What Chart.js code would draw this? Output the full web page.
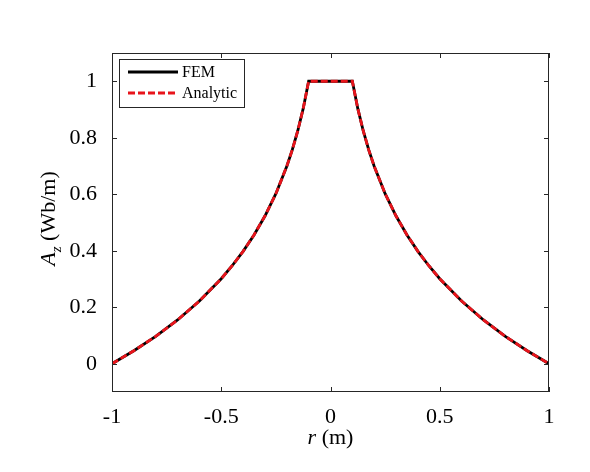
<!DOCTYPE html>
<html>
<head>
<meta charset="utf-8">
<script src="https://cdn.jsdelivr.net/npm/chart.js@4.4.1/dist/chart.umd.min.js"></script>
<style>
  html, body { margin: 0; padding: 0; background: #fff; }
  #boite { width: 590px; height: 472px; position: relative; }
</style>
</head>
<body>
<div id="boite"><canvas id="graphique"></canvas></div>
<script>
// données
const rPoints = [-1, -0.9, -0.8, -0.7, -0.6, -0.5, -0.45, -0.4, -0.35, -0.3, -0.25, -0.2, -0.175, -0.15, -0.125, -0.1,
                 0, 0.1, 0.125, 0.15, 0.175, 0.2, 0.25, 0.3, 0.35, 0.4, 0.45, 0.5, 0.6, 0.7, 0.8, 0.9, 1];
const azFEM = [0, 0.046, 0.097, 0.155, 0.222, 0.301, 0.347, 0.398, 0.456, 0.523, 0.602, 0.699, 0.757, 0.824, 0.903, 1.0,
               1.0, 1.0, 0.903, 0.824, 0.757, 0.699, 0.602, 0.523, 0.456, 0.398, 0.347, 0.301, 0.222, 0.155, 0.097, 0.046, 0];
const azAnalytic = [0, 0.046, 0.097, 0.155, 0.222, 0.301, 0.347, 0.398, 0.456, 0.523, 0.602, 0.699, 0.757, 0.824, 0.903, 1.0,
                    1.0, 1.0, 0.903, 0.824, 0.757, 0.699, 0.602, 0.523, 0.456, 0.398, 0.347, 0.301, 0.222, 0.155, 0.097, 0.046, 0];
const xTicks = [-1, -0.5, 0, 0.5, 1];
const yTicks = [0, 0.2, 0.4, 0.6, 0.8, 1];

const policeSerif = '"Liberation Serif", "DejaVu Serif", serif';
const couleurAxe = '#262626';
const rouge = '#e8141b';

function versPoints(xs, ys) {
    return xs.map((x, i) => ({ x: x, y: ys[i] }));
}

// cadre, graduations internes, titres et légende façon MATLAB
const pluginMatlab = {
    id: 'matlab',
    beforeDraw(chart) {
        const ctx = chart.ctx;
        ctx.save();
        ctx.fillStyle = '#fff';
        ctx.fillRect(0, 0, chart.width, chart.height);
        ctx.restore();
    },
    afterDraw(chart) {
        const ctx = chart.ctx;
        const a = chart.chartArea;
        const sx = chart.scales.x;
        const sy = chart.scales.y;
        const lg = 5;

        ctx.save();
        ctx.strokeStyle = couleurAxe;
        ctx.lineWidth = 1;
        ctx.strokeRect(a.left + 0.5, a.top + 0.5, a.right - a.left - 1, a.bottom - a.top - 1);

        ctx.beginPath();
        xTicks.forEach(v => {
            const px = Math.round(sx.getPixelForValue(v)) + 0.5;
            ctx.moveTo(px, a.bottom); ctx.lineTo(px, a.bottom - lg);
            ctx.moveTo(px, a.top); ctx.lineTo(px, a.top + lg);
        });
        yTicks.forEach(v => {
            const py = Math.round(sy.getPixelForValue(v)) + 0.5;
            ctx.moveTo(a.left, py); ctx.lineTo(a.left + lg, py);
            ctx.moveTo(a.right, py); ctx.lineTo(a.right - lg, py);
        });
        ctx.stroke();

        // titre axe x : r (m)
        ctx.fillStyle = '#000';
        ctx.textBaseline = 'alphabetic';
        ctx.font = 'italic 22px ' + policeSerif;
        const wR = ctx.measureText('r').width;
        ctx.font = '22px ' + policeSerif;
        const wReste = ctx.measureText(' (m)').width;
        let x0 = (a.left + a.right) / 2 - (wR + wReste) / 2;
        ctx.font = 'italic 22px ' + policeSerif;
        ctx.fillText('r', x0, 444);
        ctx.font = '22px ' + policeSerif;
        ctx.fillText(' (m)', x0 + wR, 444);

        // titre axe y : A_z (Wb/m)
        ctx.save();
        ctx.translate(55, (a.top + a.bottom) / 2 - 4);
        ctx.rotate(-Math.PI / 2);
        ctx.font = 'italic 22px ' + policeSerif;
        const wA = ctx.measureText('A').width;
        ctx.font = 'italic 15px ' + policeSerif;
        const wZ = ctx.measureText('z').width;
        ctx.font = '22px ' + policeSerif;
        const wU = ctx.measureText(' (Wb/m)').width;
        let t = -(wA + wZ + wU) / 2;
        ctx.font = 'italic 22px ' + policeSerif;
        ctx.fillText('A', t, 0);
        ctx.font = 'italic 15px ' + policeSerif;
        ctx.fillText('z', t + wA, 6);
        ctx.font = '22px ' + policeSerif;
        ctx.fillText(' (Wb/m)', t + wA + wZ, 0);
        ctx.restore();

        // légende
        const lx = 119, ly = 59, lw = 125, lh = 48;
        ctx.fillStyle = '#fff';
        ctx.fillRect(lx, ly, lw, lh);
        ctx.strokeStyle = couleurAxe;
        ctx.lineWidth = 1;
        ctx.strokeRect(lx + 0.5, ly + 0.5, lw, lh);

        const jeux = chart.data.datasets;
        const lignesY = [72, 93];
        jeux.forEach((d, i) => {
            ctx.beginPath();
            ctx.strokeStyle = d.borderColor;
            ctx.lineWidth = d.borderWidth;
            ctx.setLineDash(d.borderDash || []);
            ctx.moveTo(128, lignesY[i]);
            ctx.lineTo(178, lignesY[i]);
            ctx.stroke();
            ctx.setLineDash([]);
            ctx.fillStyle = '#000';
            ctx.font = '16px ' + policeSerif;
            ctx.textBaseline = 'middle';
            ctx.fillText(d.label, 182, lignesY[i] + 1);
        });
        ctx.restore();
    }
};

new Chart(document.getElementById('graphique'), {
    type: 'line',
    data: {
        datasets: [
            {
                label: 'FEM',
                data: versPoints(rPoints, azFEM),
                borderColor: '#000',
                borderWidth: 2.8,
                pointRadius: 0,
                fill: false,
                tension: 0,
                order: 1
            },
            {
                label: 'Analytic',
                data: versPoints(rPoints, azAnalytic),
                borderColor: rouge,
                borderWidth: 2.8,
                borderDash: [7, 3],
                pointRadius: 0,
                fill: false,
                tension: 0,
                order: 0
            }
        ]
    },
    options: {
        responsive: true,
        maintainAspectRatio: false,
        animation: false,
        layout: { padding: { left: 0, top: 53, right: 41, bottom: 0 } },
        plugins: { legend: { display: false }, tooltip: { enabled: false } },
        scales: {
            x: {
                type: 'linear',
                min: -1,
                max: 1,
                grid: { display: false },
                border: { display: false },
                afterBuildTicks: s => { s.ticks = xTicks.map(v => ({ value: v })); },
                afterFit: s => { s.height = 80; },
                ticks: {
                    color: '#000',
                    font: { family: policeSerif, size: 22 },
                    padding: 4,
                    maxRotation: 0,
                    callback: v => String(v)
                }
            },
            y: {
                type: 'linear',
                min: -0.1,
                max: 1.1,
                grid: { display: false },
                border: { display: false },
                afterBuildTicks: s => { s.ticks = yTicks.map(v => ({ value: v })); },
                afterFit: s => { s.width = 112; },
                ticks: {
                    color: '#000',
                    font: { family: policeSerif, size: 22 },
                    padding: 7,
                    callback: v => String(Math.round(v * 10) / 10)
                }
            }
        }
    },
    plugins: [pluginMatlab]
});
</script>
</body>
</html>
